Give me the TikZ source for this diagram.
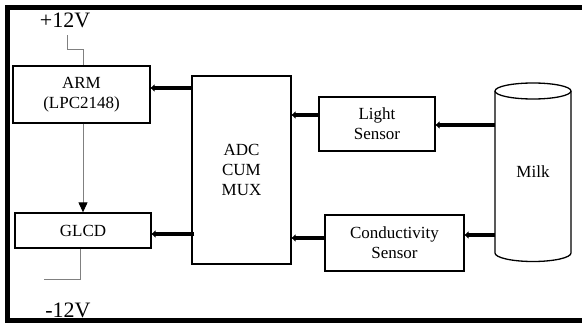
\documentclass[tikz,border=0pt]{standalone}
\usepackage{fontspec}
\setmainfont{Liberation Serif}
\usetikzlibrary{arrows.meta}
\begin{document}
\begin{tikzpicture}[x=1pt,y=-1pt,
  blk/.style={draw=black,line width=1.3pt,rectangle,inner sep=0pt,align=center,
    font=\fontsize{17}{20}\selectfont},
  bigarrow/.style={line width=3.5pt,-{Triangle[length=4pt,width=7pt]}},
  wire/.style={draw=gray,line width=1pt},
  thinarrow/.style={draw=gray,line width=1pt,-{Triangle[length=10pt,width=9pt,fill=black,color=black]}},
  lbl/.style={font=\fontsize{22}{24}\selectfont,inner sep=0pt}]
\useasboundingbox (0,0) rectangle (582,324);
% frame
\draw[line width=4.5pt] (590,7.5) -- (7.5,7.5) -- (7.5,320.5) -- (590,320.5);
% blocks
\node[blk,minimum width=137pt,minimum height=57pt] (arm) at (81.5,94.5) {ARM\\(LPC2148)};
\node[blk,minimum width=136pt,minimum height=35pt] (glcd) at (83,230.5) {GLCD};
\node[blk,minimum width=99pt,minimum height=188pt] (adc) at (241.5,170) {ADC\\CUM\\MUX};
\node[blk,minimum width=116pt,minimum height=54pt] (light) at (377,124) {Light\\Sensor};
\node[blk,minimum width=139pt,minimum height=56pt] (cond) at (394.5,243) {Conductivity\\Sensor};
% milk cylinder
\node[inner sep=0pt,minimum width=76pt,minimum height=162pt,font=\fontsize{17}{20}\selectfont] (milk) at (533,172) {Milk};
\draw[line width=1.3pt] (495,91) -- (495,253) arc[start angle=180,end angle=360,x radius=38,y radius=-8.5] -- (571,91);
\draw[line width=1.3pt] (533,91) ellipse[x radius=38,y radius=8];
% supply labels
\node[lbl] (pv) at (65,20) {+12V};
\node[lbl] (nv) at (68,310) {-12V};
\coordinate (pvend) at (67,35);
\coordinate (nvend) at (44,279);
\draw[wire] (pvend) -- (67,49) -- (83,49) -- (arm.north -| 83,0);
\draw[wire] (glcd.south -| 80,0) -- (80,279) -- (nvend);
% arrows
\draw[thinarrow] (arm.south -| 83,0) -- (glcd.north -| 83,0);
\draw[bigarrow] (adc.west |- 0,88) -- (arm.east |- 0,88);
\draw[bigarrow] ([xshift=3pt]adc.west |- 0,234) -- (glcd.east |- 0,234);
\draw[bigarrow] (light.west |- 0,115) -- (adc.east |- 0,115);
\draw[bigarrow] (cond.west |- 0,238) -- (adc.east |- 0,238);
\draw[bigarrow] (milk.west |- 0,125) -- (light.east |- 0,125);
\draw[bigarrow] (milk.west |- 0,235) -- (cond.east |- 0,235);
\end{tikzpicture}
\end{document}
